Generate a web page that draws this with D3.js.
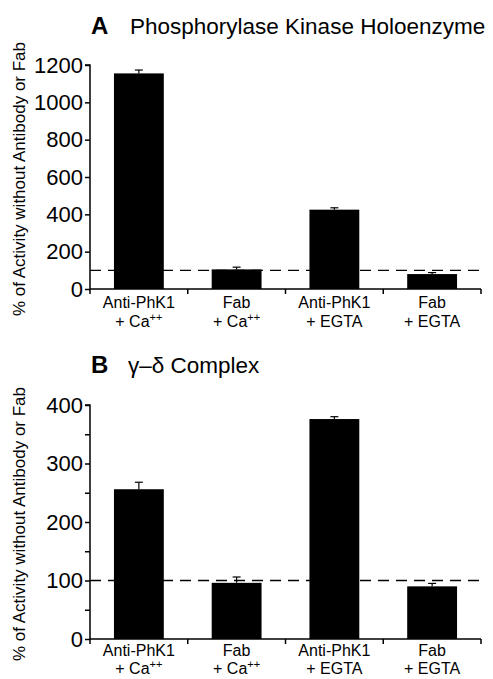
<!DOCTYPE html>
<html>
<head>
<meta charset="utf-8">
<script src="https://cdn.jsdelivr.net/npm/d3@7"></script>
<style>
  body { margin: 0; background: #fff; }
  text { font-family: "Liberation Sans", Arial, Helvetica, sans-serif; fill: #000; }
</style>
</head>
<body>
<div id="chart"></div>
<script>
const WIDTH = 493;
const HEIGHT = 679;

// data
const conditions = ["Anti-PhK1 + Ca", "Fab + Ca", "Anti-PhK1 + EGTA", "Fab + EGTA"];
const labelTop = ["Anti-PhK1", "Fab", "Anti-PhK1", "Fab"];
const labelBottom = ["+ Ca", "+ Ca", "+ EGTA", "+ EGTA"];
const labelSup = ["++", "++", "", ""];

const holoValues = [1155, 105, 425, 80];
const holoErrors = [18, 12, 10, 8];
const holoTicks = [0, 200, 400, 600, 800, 1000, 1200];

const gdValues = [256, 96, 376, 90];
const gdErrors = [12, 10, 4, 5];
const gdTicks = [0, 50, 100, 150, 200, 250, 300, 350, 400];
const gdTickLabels = [0, 100, 200, 300, 400];

const baseline = 100;
const yTitle = "% of Activity without Antibody or Fab";

const svg = d3.select("#chart").append("svg")
  .attr("width", WIDTH)
  .attr("height", HEIGHT);

const x = d3.scaleBand()
  .domain(conditions)
  .range([90, 481])
  .paddingInner(0.49)
  .paddingOuter(0.245);

const drawPanel = (opt) => {
  const g = svg.append("g");
  const y = d3.scaleLinear().domain([0, opt.max]).range([opt.bottom, opt.top]);

  // bars
  g.selectAll(".bar")
    .data(opt.values)
    .enter().append("rect")
    .attr("class", "bar")
    .attr("x", (d, i) => x(conditions[i]))
    .attr("width", x.bandwidth())
    .attr("y", d => y(d))
    .attr("height", d => y(0) - y(d))
    .attr("fill", "#000");

  // upper error whiskers only
  const err = g.selectAll(".err")
    .data(opt.values)
    .enter().append("g")
    .attr("class", "err")
    .attr("transform", (d, i) => "translate(" + (x(conditions[i]) + x.bandwidth() / 2) + ",0)");
  err.append("line")
    .attr("y1", d => y(d))
    .attr("y2", (d, i) => y(d + opt.errors[i]))
    .attr("stroke", "#000").attr("stroke-width", 1.2);
  err.append("line")
    .attr("x1", -4).attr("x2", 4)
    .attr("y1", (d, i) => y(d + opt.errors[i]))
    .attr("y2", (d, i) => y(d + opt.errors[i]))
    .attr("stroke", "#000").attr("stroke-width", 1.2);

  // dashed 100% line
  g.append("line")
    .attr("x1", 90).attr("x2", 481)
    .attr("y1", y(baseline)).attr("y2", y(baseline))
    .attr("stroke", "#000")
    .attr("stroke-width", 1.4)
    .attr("stroke-dasharray", "11,7");

  // y axis
  const yAxis = g.append("g")
    .attr("transform", "translate(90,0)")
    .call(d3.axisLeft(y)
      .tickValues(opt.ticks)
      .tickSize(5)
      .tickPadding(2)
      .tickFormat(d => opt.labels.includes(d) ? d : ""));
  yAxis.select(".domain").attr("d", "M-5," + y(opt.max) + "H0V" + y(0)).attr("stroke-width", 1.5);
  yAxis.selectAll(".tick line").attr("stroke-width", 1.5);
  yAxis.selectAll(".tick text")
    .style("font-size", "22px")
    .style("font-family", "Liberation Sans, Arial, sans-serif");

  // x axis line with ticks at the category edges
  const edges = conditions.map(c => x(c) - x.step() * x.paddingInner() / 2);
  edges.push(481);
  g.append("line")
    .attr("x1", 90).attr("x2", 481)
    .attr("y1", y(0)).attr("y2", y(0))
    .attr("stroke", "#000").attr("stroke-width", 1.5);
  g.selectAll(".xtick")
    .data(edges)
    .enter().append("line")
    .attr("class", "xtick")
    .attr("x1", d => d).attr("x2", d => d)
    .attr("y1", y(0)).attr("y2", y(0) + 5)
    .attr("stroke", "#000").attr("stroke-width", 1.5);

  // category labels
  const lab = g.selectAll(".xlab")
    .data(conditions)
    .enter().append("text")
    .attr("class", "xlab")
    .attr("text-anchor", "middle")
    .style("font-size", "16px");
  lab.append("tspan")
    .attr("x", d => x(d) + x.bandwidth() / 2)
    .attr("y", y(0) + opt.lab1)
    .text((d, i) => labelTop[i]);
  lab.append("tspan")
    .attr("x", d => x(d) + x.bandwidth() / 2)
    .attr("y", y(0) + opt.lab2)
    .text((d, i) => labelBottom[i]);
  lab.append("tspan")
    .attr("dy", -6)
    .style("font-size", "11px")
    .text((d, i) => labelSup[i]);

  // y title
  g.append("text")
    .attr("transform", "translate(25," + ((opt.top + opt.bottom) / 2 + 2) + ") rotate(-90)")
    .attr("text-anchor", "middle")
    .style("font-size", "17px")
    .text(yTitle);

  // panel title
  const t = g.append("text")
    .attr("x", 91)
    .attr("y", opt.titleY);
  t.append("tspan")
    .style("font-size", "24px")
    .style("font-weight", "bold")
    .text(opt.letter);
  t.append("tspan")
    .attr("x", opt.titleX)
    .style("font-size", "22.5px")
    .text(opt.title);
};

drawPanel({
  values: holoValues, errors: holoErrors, ticks: holoTicks, labels: holoTicks,
  max: 1200, top: 65, bottom: 289, lab1: 19, lab2: 38,
  letter: "A", title: "Phosphorylase Kinase Holoenzyme", titleX: 130, titleY: 34
});

drawPanel({
  values: gdValues, errors: gdErrors, ticks: gdTicks, labels: gdTickLabels,
  max: 400, top: 405, bottom: 639, lab1: 17, lab2: 35,
  letter: "B", title: "\u03b3\u2013\u03b4 Complex", titleX: 128, titleY: 373
});
</script>
</body>
</html>
